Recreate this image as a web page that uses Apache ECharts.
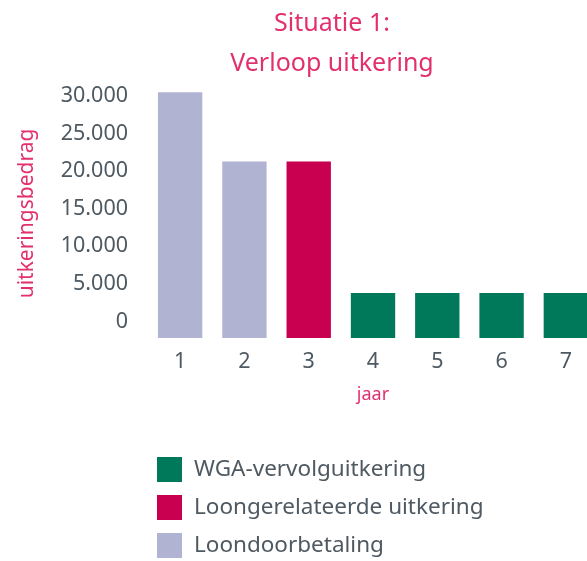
<!DOCTYPE html>
<html>
<head>
<meta charset="utf-8">
<script src="https://cdn.jsdelivr.net/npm/echarts@6/dist/echarts.min.js"></script>
<style>
  html, body { margin: 0; padding: 0; background: #fff; }
  #chart { width: 587px; height: 561px; }
</style>
</head>
<body>
<div id="chart"></div>
<script>
// chart data
const jaren = ['1', '2', '3', '4', '5', '6', '7'];
const loondoorbetaling = [30500, 21300, '-', '-', '-', '-', '-'];
const loongerelateerd = ['-', '-', 21300, '-', '-', '-', '-'];
const wgaVervolg = ['-', '-', '-', 3800, 3800, 3800, 3800];
const yTicks = [0, 5000, 10000, 15000, 20000, 25000, 30000];

const pink = '#e2306e';
const grey = '#4f5961';
const font = 'Noto Sans';

const myChart = echarts.init(document.getElementById('chart'));

const option = {
  animation: false,
  textStyle: { fontFamily: font },
  title: {
    text: 'Situatie 1:\nVerloop uitkering',
    left: 327,
    top: -1,
    textAlign: 'center',
    textStyle: { color: pink, fontSize: 25, fontWeight: 'normal', lineHeight: 40, fontFamily: font }
  },
  legend: {
    orient: 'vertical',
    left: 157,
    top: 457,
    height: 140,
    padding: 0,
    itemWidth: 25,
    itemHeight: 25,
    itemGap: 13,
    icon: 'rect',
    data: ['WGA-vervolguitkering', 'Loongerelateerde uitkering', 'Loondoorbetaling'],
    textStyle: { color: grey, fontSize: 22.5, padding: [0, 0, 0, 7], fontFamily: font }
  },
  grid: { left: 148, right: -11, top: 81, bottom: 223, containLabel: false, outerBoundsMode: 'none' },
  xAxis: {
    type: 'category',
    data: jaren,
    name: 'jaar',
    nameLocation: 'middle',
    nameGap: 48,
    nameTextStyle: { color: pink, fontSize: 18 },
    axisLine: { show: false },
    axisTick: { show: false },
    axisLabel: { color: grey, fontSize: 21.5, margin: 13 }
  },
  yAxis: {
    type: 'value',
    min: -2200,
    max: 32000,
    startValue: -2200,
    name: 'uitkeringsbedrag',
    nameLocation: 'middle',
    nameRotate: 90,
    nameGap: 110,
    nameTextStyle: { color: pink, fontSize: 21, padding: [0, 8, 0, 0] },
    axisLine: { show: false },
    axisTick: { show: false },
    splitLine: { show: false },
    axisLabel: {
      customValues: yTicks,
      color: grey,
      fontSize: 21.5,
      margin: 20,
      formatter: v => v === 0 ? '0' : (v / 1000) + '.000'
    }
  },
  series: [
    {
      name: 'Loondoorbetaling', type: 'bar', data: loondoorbetaling,
      barGap: '-100%', barCategoryGap: '31%', itemStyle: { color: '#b1b3d2' }
    },
    {
      name: 'Loongerelateerde uitkering', type: 'bar', data: loongerelateerd,
      barGap: '-100%', itemStyle: { color: '#c8004f' }
    },
    {
      name: 'WGA-vervolguitkering', type: 'bar', data: wgaVervolg,
      barGap: '-100%', itemStyle: { color: '#00785a' }
    }
  ]
};

myChart.setOption(option);
</script>
</body>
</html>
